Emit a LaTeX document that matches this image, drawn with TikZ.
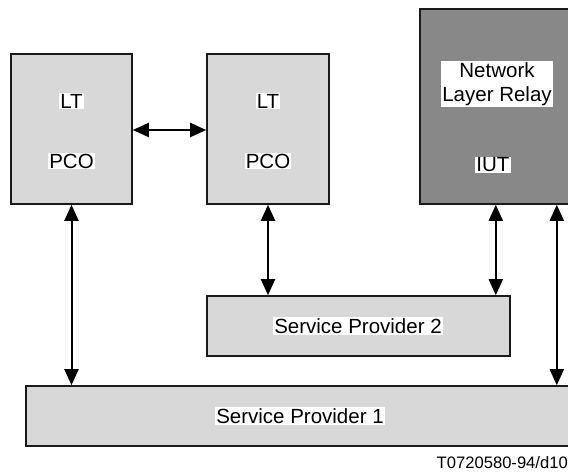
\documentclass[tikz,border=0pt]{standalone}
\usepackage{fontspec}
\setmainfont{Liberation Sans}
\usetikzlibrary{arrows.meta}
\definecolor{boxlight}{HTML}{D8D8D8}
\definecolor{boxdark}{HTML}{888888}
\definecolor{edge}{HTML}{1A1A1A}
\begin{document}
\begin{tikzpicture}[x=1pt,y=-1pt,
  block/.style={draw=edge, line width=1.6pt, fill=boxlight, rectangle, inner sep=0pt},
  label/.style={fill=white, inner sep=1pt, font=\fontsize{20.5}{24}\selectfont, align=center},
  link/.style={line width=2pt, {Triangle[length=16pt,width=14pt]}-{Triangle[length=16pt,width=14pt]}}]
  \useasboundingbox (0,0) rectangle (568,475);
  \clip (0,0) rectangle (568,475);

  % test components
  \node[block, minimum width=121pt, minimum height=150pt] (lt1) at (71.5,129) {};
  \node[block, minimum width=122pt, minimum height=150pt] (lt2) at (268,129) {};
  \node[block, fill=boxdark, minimum width=152pt, minimum height=195pt] (iut) at (496,106.5) {};

  % service providers
  \node[block, minimum width=303pt, minimum height=60pt] (sp2) at (358.5,326) {};
  \node[block, minimum width=546pt, minimum height=60pt] (sp1) at (299,416) {};

  % labels
  \node[label] (lt1a) at (71.5,101) {LT};
  \node[label] (lt1b) at (71.5,161) {PCO};
  \node[label] (lt2a) at (268,101) {LT};
  \node[label] (lt2b) at (268,161) {PCO};
  \node[label] (iuta) at (497,84) {Network\\Layer Relay};
  \node[label] (iutb) at (493,165) {IUT};
  \node[label] (sp2t) at (358,326) {Service Provider 2};
  \node[label] (sp1t) at (300,416) {Service Provider 1};
  \node[anchor=base east, inner sep=0pt, font=\fontsize{16.6}{20}\selectfont] (ref) at (568,468) {T0720580-94/d10};

  % connections
  \draw[link] ([yshift=-1]lt1.east) -- ([yshift=-1]lt2.west);
  \draw[link] (lt1.south) -- (lt1.south |- sp1.north);
  \draw[link] (lt2.south) -- (lt2.south |- sp2.north);
  \draw[link] ([xshift=-15]sp2.north east |- iut.south) -- ([xshift=-15]sp2.north east);
  \draw[link] ([xshift=-16]iut.south east) -- ([xshift=-16]iut.south east |- sp1.north);
\end{tikzpicture}
\end{document}
